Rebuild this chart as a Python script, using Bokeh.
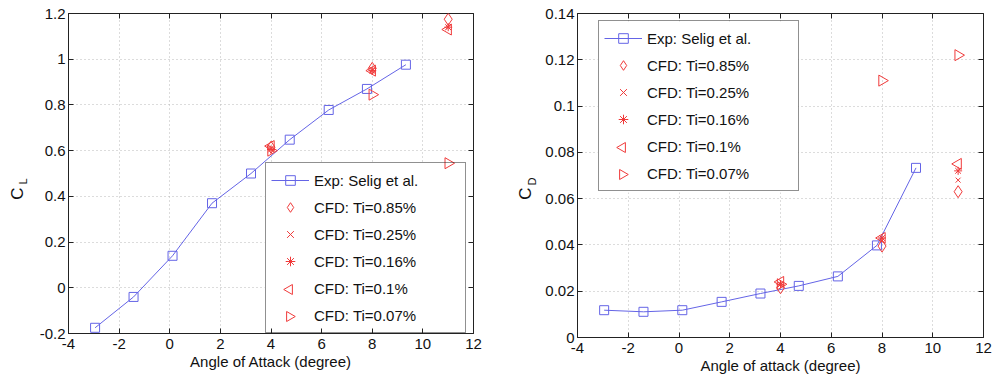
import math
from bokeh.plotting import figure
from bokeh.layouts import row
from bokeh.models import (Range1d, FixedTicker, CustomJSTickFormatter, LinearAxis, LegendItem)
from bokeh.core.properties import value
from bokeh.embed import file_html
from bokeh.resources import INLINE

# ---------------- data ----------------
x_ticks = [-4, -2, 0, 2, 4, 6, 8, 10, 12]
cl_ticks = [-0.2, 0, 0.2, 0.4, 0.6, 0.8, 1.0, 1.2]
cd_ticks = [0, 0.02, 0.04, 0.06, 0.08, 0.1, 0.12, 0.14]

exp_alpha_cl = [-2.95, -1.43, 0.11, 1.67, 3.21, 4.74, 6.28, 7.79, 9.33]
exp_cl = [-0.175, -0.04, 0.14, 0.37, 0.50, 0.648, 0.778, 0.87, 0.976]

exp_alpha_cd = [-2.95, -1.40, 0.13, 1.68, 3.21, 4.72, 6.26, 7.80, 9.34]
exp_cd = [0.0118, 0.0111, 0.0118, 0.0154, 0.0190, 0.0223, 0.0264, 0.0398, 0.0733]

cfd_alpha = [4, 8, 11]
cl_ti085 = [0.615, 0.96, 1.175]
cl_ti025 = [0.61, 0.955, 1.14]
cl_ti016 = [0.605, 0.95, 1.14]
cl_ti01 = [0.62, 0.95, 1.13]
cl_ti007 = [0.60, 0.845, 0.545]

cd_ti085 = [0.0215, 0.0395, 0.063]
cd_ti025 = [0.023, 0.042, 0.068]
cd_ti016 = [0.023, 0.043, 0.072]
cd_ti01 = [0.024, 0.043, 0.075]
cd_ti007 = [0.023, 0.111, 0.122]

labels = ["Exp: Selig et al.", "CFD: Ti=0.85%", "CFD: Ti=0.25%",
          "CFD: Ti=0.16%", "CFD: Ti=0.1%", "CFD: Ti=0.07%"]

BLUE = "#6464e6"
RED = "#f03a3a"
FONT = "Liberation Sans"
INK = "#111111"
H = 375

# legend geometry (pixels)
LG_PAD = 5
LG_ROW = 24
LG_SPACE = 3
LG_GLYPH_W = 38
LG_STANDOFF = 5
LG_LABEL_W = 146
LG_HEIGHT = 2 * LG_PAD + 6 * LG_ROW + 5 * LG_SPACE
LG_WIDTH = 2 * LG_PAD + LG_GLYPH_W + LG_STANDOFF + LG_LABEL_W

fmt = CustomJSTickFormatter(code="return String(Math.round(tick*1e6)/1e6);")
blank = CustomJSTickFormatter(code="return '';")


def make_fig(fw, fh, bl, br, bt, bb, xr, yr, xlabel):
    p = figure(frame_width=fw, frame_height=fh, output_backend="svg", toolbar_location=None,
               x_range=Range1d(*xr), y_range=Range1d(*yr),
               min_border_left=bl, min_border_right=br, min_border_top=bt,
               min_border_bottom=bb, x_axis_label=xlabel)
    return p


def style(p, xt, yt):
    p.outline_line_color = "#222222"
    p.outline_line_width = 1
    p.background_fill_color = "white"
    p.border_fill_color = "white"
    for ax in (p.xaxis[0], p.yaxis[0]):
        ax.major_tick_in = 5
        ax.major_tick_out = 0
        ax.minor_tick_line_color = None
        ax.axis_line_color = "#222222"
        ax.major_tick_line_color = "#222222"
        ax.major_label_text_font = FONT
        ax.major_label_text_font_size = "15px"
        ax.major_label_text_color = INK
        ax.formatter = fmt
        ax.axis_label_text_font = FONT
        ax.axis_label_text_font_size = "15px"
        ax.axis_label_text_font_style = "normal"
        ax.axis_label_text_color = INK
    p.xaxis[0].ticker = FixedTicker(ticks=xt)
    p.yaxis[0].ticker = FixedTicker(ticks=yt)
    p.xaxis[0].major_label_standoff = 5
    p.xaxis[0].axis_label_standoff = 1
    p.yaxis[0].major_label_standoff = 3
    p.xgrid.ticker = FixedTicker(ticks=xt)
    p.ygrid.ticker = FixedTicker(ticks=yt)
    for g in (p.xgrid, p.ygrid):
        g.grid_line_color = "#b8b8b8"
        g.grid_line_dash = "1 3"
        g.grid_line_width = 1
    for side, tk in (("above", xt), ("right", yt)):
        ax = LinearAxis(ticker=FixedTicker(ticks=tk), formatter=blank,
                        major_label_text_font_size="1px",
                        axis_line_color=None, major_tick_in=5, major_tick_out=0,
                        minor_tick_line_color=None, major_label_standoff=0,
                        major_tick_line_color="#222222")
        p.add_layout(ax, side)


def px_to_data(p, px, py):
    fw, fh = p.frame_width, p.frame_height
    x0, x1 = p.x_range.start, p.x_range.end
    y0, y1 = p.y_range.start, p.y_range.end
    return x0 + px / fw * (x1 - x0), y0 + py / fh * (y1 - y0)


def add_series(p, ex, ey, cfd_sets, loc):
    # white backing for the legend box (legend itself is transparent)
    lx, ly = loc
    l0, b0 = px_to_data(p, lx - 1, ly - 1)
    r0, t0 = px_to_data(p, lx + LG_WIDTH + 1, ly + LG_HEIGHT + 1)
    p.quad(left=[l0], right=[r0], bottom=[b0], top=[t0], fill_color="white",
           line_color=None)

    p.line(ex, ey, line_color=BLUE, line_width=1, legend_label=labels[0])
    p.scatter(ex, ey, marker="square", size=9, line_color=BLUE, fill_color=None,
              line_width=1, legend_label=labels[0])
    markers = [("diamond", 12), ("x", 7), ("asterisk", 8)]
    for (mk, sz), vals, lab in zip(markers, cfd_sets[:3], labels[1:4]):
        p.scatter(cfd_alpha, vals, marker=mk, size=sz, line_color=RED,
                  fill_color=None, line_width=1, legend_label=lab)
    for i, ang, vals, lab in ((4, math.pi / 2, cfd_sets[3], labels[4]),
                              (5, -math.pi / 2, cfd_sets[4], labels[5])):
        p.scatter(cfd_alpha, vals, marker="triangle", angle=ang, size=11,
                  line_color=RED, fill_color=None, line_width=1)
        # legend symbol (legend glyphs cannot be rotated in Bokeh)
        gx = lx + LG_PAD + LG_GLYPH_W / 2
        gy = ly + LG_HEIGHT - LG_PAD - i * (LG_ROW + LG_SPACE) - LG_ROW / 2
        sx, sy = px_to_data(p, gx, gy)
        p.scatter([sx], [sy], marker="triangle", angle=ang, size=10,
                  line_color=RED, fill_color=None, line_width=1)
        dummy = p.text(x=[], y=[], text=[])
        p.legend[0].items.append(LegendItem(label=lab, renderers=[dummy]))


def style_legend(p, loc):
    lg = p.legend[0]
    lg.location = loc
    lg.border_line_color = "#222222"
    lg.border_line_width = 1
    lg.background_fill_alpha = 0
    lg.label_text_font = FONT
    lg.label_text_font_size = "15px"
    lg.label_text_color = INK
    lg.glyph_width = LG_GLYPH_W
    lg.glyph_height = LG_ROW
    lg.label_height = LG_ROW
    lg.label_width = LG_LABEL_W
    lg.label_standoff = LG_STANDOFF
    lg.spacing = LG_SPACE
    lg.padding = LG_PAD
    lg.margin = 0


def label_fig(width, main, sub, xm, ym, xs, ys):
    q = figure(frame_width=width, frame_height=H, output_backend="svg", toolbar_location=None,
               x_range=Range1d(0, width), y_range=Range1d(0, H),
               min_border_left=0, min_border_right=0, min_border_top=0, min_border_bottom=0)
    q.axis.visible = False
    q.grid.visible = False
    q.outline_line_color = None
    q.border_fill_color = "white"
    q.text(x=[xm], y=[H - ym], text=[main], angle=math.pi / 2, text_align="center",
           text_baseline="middle", text_font=value(FONT), text_font_size="17px",
           text_color=INK)
    q.text(x=[xs], y=[H - ys], text=[sub], angle=math.pi / 2, text_align="center",
           text_baseline="middle", text_font=value(FONT), text_font_size="11px",
           text_color=INK)
    return q


# ---------------- left: CL ----------------
LOC1 = (197, 0)
lab1 = label_fig(36, "C", "L", 17, 180, 22, 168)
p1 = make_fig(405, 320, 32, 17, 13, 42, (-4, 12), (-0.2, 1.2), "Angle of Attack (degree)")
style(p1, x_ticks, cl_ticks)
add_series(p1, exp_alpha_cl, exp_cl, [cl_ti085, cl_ti025, cl_ti016, cl_ti01, cl_ti007], LOC1)
style_legend(p1, LOC1)

# ---------------- right: CD ----------------
LOC2 = (21, 146)
lab2 = label_fig(52, "C", "D", 35, 180, 41, 168)
p2 = make_fig(406, 324, 35, 9, 13, 38, (-4, 12), (0, 0.14), "Angle of attack (degree)")
style(p2, x_ticks, cd_ticks)
add_series(p2, exp_alpha_cd, exp_cd, [cd_ti085, cd_ti025, cd_ti016, cd_ti01, cd_ti007], LOC2)
style_legend(p2, LOC2)

layout = row(lab1, p1, lab2, p2)
open("out.html", "w").write(file_html(layout, INLINE))
